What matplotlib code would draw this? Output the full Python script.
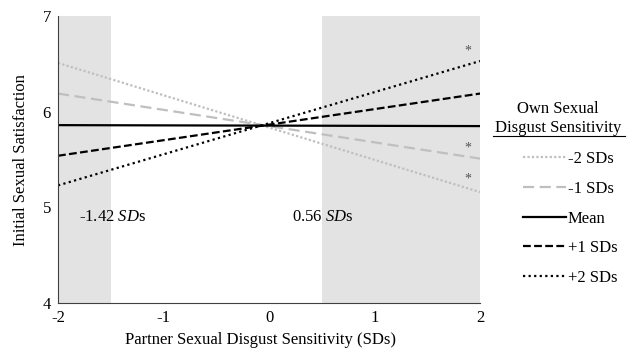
import matplotlib.pyplot as plt
from matplotlib.lines import Line2D

plt.rcParams['font.family'] = ['Liberation Serif', 'DejaVu Serif']
plt.rcParams['font.size'] = 12
plt.rcParams['axes.unicode_minus'] = False
plt.rcParams['mathtext.fontset'] = 'custom'
plt.rcParams['mathtext.rm'] = 'Liberation Serif'
plt.rcParams['mathtext.it'] = 'Liberation Serif:italic'

# Partner sexual disgust sensitivity (SDs), endpoints of the simple slopes
x_vals = [-2, 2]
groups = ['-2 SDs', '-1 SDs', 'Mean', '+1 SDs', '+2 SDs']
y_start = [6.51, 6.19, 5.86, 5.54, 5.23]
y_end = [5.16, 5.51, 5.85, 6.19, 6.53]

colores = ['#bfbfbf', '#bfbfbf', 'black', 'black', 'black']
estilos = [(0, (1, 1)), (0, (5, 2.5)), '-', (0, (3.5, 1.5)), (0, (1, 1.5))]

# Regiões de significância
regioes = [(-2, -1.5), (0.5, 2)]
rotulos_regiao = ['-1.42 $\\it{SD}$s', '0.56 $\\it{SD}$s']
pos_rotulo = [(-1.8, 4.9), (0.22, 4.9)]

# Asteriscos
ast_x = [1.88, 1.88, 1.88]
ast_y = [6.63, 5.62, 5.30]

fig = plt.figure(figsize=(6.28, 3.57), dpi=100)
ax = fig.add_axes([0.0924, 0.151, 0.672, 0.804])

for (a, b) in regioes:
    ax.axvspan(a, b, color='#e3e3e3', lw=0, zorder=0)

for i, g in enumerate(groups):
    ax.plot(x_vals, [y_start[i], y_end[i]], color=colores[i], linestyle=estilos[i],
            lw=1.6, label=g, zorder=2)

for t, (px, py) in zip(rotulos_regiao, pos_rotulo):
    ax.text(px, py, t, fontsize=12, va='center', ha='left')

for xa, ya in zip(ast_x, ast_y):
    ax.text(xa, ya, '*', fontsize=10, color='#555555', ha='center', va='center')

ax.set_xlim(-2, 2)
ax.set_ylim(4, 7)
ax.set_xticks([-2, -1, 0, 1, 2])
ax.set_yticks([4, 5, 6, 7])
ax.tick_params(length=0, labelsize=12, pad=5)
ax.spines['top'].set_visible(False)
ax.spines['right'].set_visible(False)
ax.spines['left'].set_color('#404040')
ax.spines['bottom'].set_color('#404040')
ax.set_xlabel('Partner Sexual Disgust Sensitivity (SDs)', fontsize=12, labelpad=4, x=0.48)
ax.set_ylabel('Initial Sexual Satisfaction', fontsize=12, labelpad=10)

# Título da legenda
fig.text(0.889, 0.695, 'Own Sexual', ha='center', va='center', fontsize=12)
fig.text(0.889, 0.642, 'Disgust Sensitivity', ha='center', va='center', fontsize=12)
fig.add_artist(Line2D([0.785, 0.995], [0.62, 0.62], color='black', lw=0.8,
                      transform=fig.transFigure))

fig.legend(loc='upper left', bbox_to_anchor=(0.822, 0.595), frameon=False,
           handlelength=2.6, handletextpad=0.1, labelspacing=0.82, fontsize=12,
           borderaxespad=0)

fig.savefig('out.png', dpi=100)
